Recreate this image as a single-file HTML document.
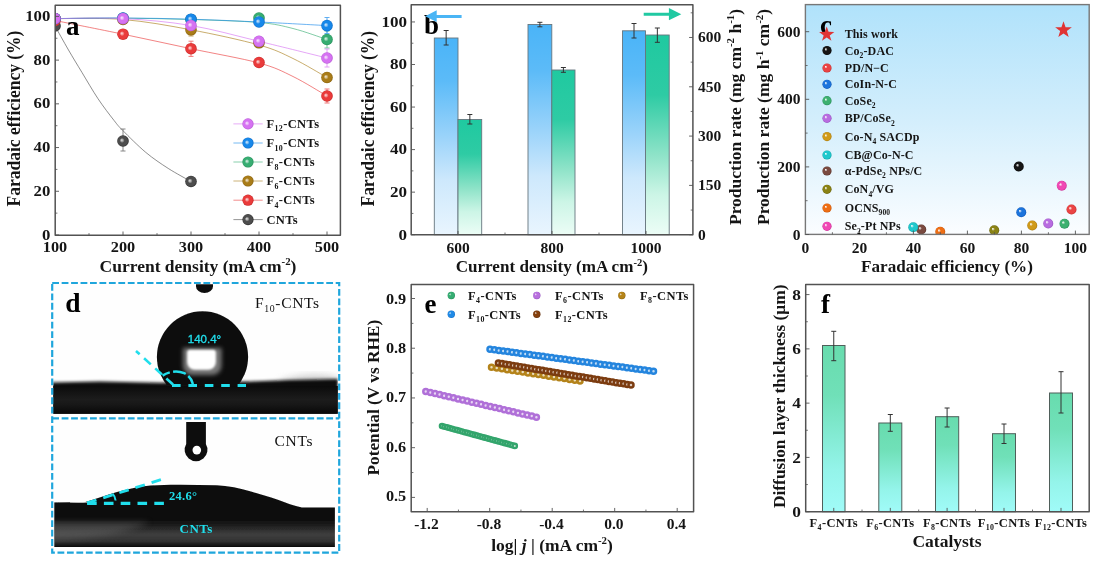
<!DOCTYPE html>
<html lang="en"><head><meta charset="utf-8"><title>Figure</title>
<style>
html,body{margin:0;padding:0;background:#fff;}
body{width:1100px;height:564px;overflow:hidden;font-family:'Liberation Serif',serif;}
svg{display:block;font-family:'Liberation Serif',serif;}
</style></head><body>
<svg width="1100" height="564" viewBox="0 0 1100 564">
<defs>
<radialGradient id="gF12" cx="0.5" cy="0.5" r="0.5" fx="0.38" fy="0.42"><stop offset="0" stop-color="#f6e0fc"/><stop offset="0.120" stop-color="#f1cffb"/><stop offset="0.300" stop-color="#e29bf6"/><stop offset="0.420" stop-color="#d672f2"/><stop offset="0.8" stop-color="#d672f2"/><stop offset="1" stop-color="#b45ad2"/></radialGradient>
<radialGradient id="gF10" cx="0.5" cy="0.5" r="0.5" fx="0.38" fy="0.42"><stop offset="0" stop-color="#cce5fa"/><stop offset="0.120" stop-color="#afd6f8"/><stop offset="0.300" stop-color="#5aaaf0"/><stop offset="0.420" stop-color="#1788ea"/><stop offset="0.8" stop-color="#1788ea"/><stop offset="1" stop-color="#0f6bc5"/></radialGradient>
<radialGradient id="gF8" cx="0.5" cy="0.5" r="0.5" fx="0.38" fy="0.42"><stop offset="0" stop-color="#d3ede0"/><stop offset="0.120" stop-color="#bae3cf"/><stop offset="0.300" stop-color="#70c49b"/><stop offset="0.420" stop-color="#37ad72"/><stop offset="0.8" stop-color="#37ad72"/><stop offset="1" stop-color="#268e5a"/></radialGradient>
<radialGradient id="gF6" cx="0.5" cy="0.5" r="0.5" fx="0.38" fy="0.42"><stop offset="0" stop-color="#ece2cc"/><stop offset="0.120" stop-color="#e2d2af"/><stop offset="0.300" stop-color="#c2a15a"/><stop offset="0.420" stop-color="#a97c18"/><stop offset="0.8" stop-color="#a97c18"/><stop offset="1" stop-color="#88610e"/></radialGradient>
<radialGradient id="gF4" cx="0.5" cy="0.5" r="0.5" fx="0.38" fy="0.42"><stop offset="0" stop-color="#fad4d4"/><stop offset="0.120" stop-color="#f8bcbc"/><stop offset="0.300" stop-color="#f07373"/><stop offset="0.420" stop-color="#ea3b3b"/><stop offset="0.8" stop-color="#ea3b3b"/><stop offset="1" stop-color="#c72727"/></radialGradient>
<radialGradient id="gCNT" cx="0.5" cy="0.5" r="0.5" fx="0.38" fy="0.42"><stop offset="0" stop-color="#d8d8d8"/><stop offset="0.120" stop-color="#c2c2c2"/><stop offset="0.300" stop-color="#808080"/><stop offset="0.420" stop-color="#4d4d4d"/><stop offset="0.8" stop-color="#4d4d4d"/><stop offset="1" stop-color="#2c2c2c"/></radialGradient>
<clipPath id="clipA"><rect x="55.2" y="5.3" width="285.2" height="238.0"/></clipPath>
<linearGradient id="gBlue" x1="0" y1="0" x2="0" y2="1"><stop offset="0" stop-color="#4ab4f8"/><stop offset="0.22" stop-color="#5cbbf8"/><stop offset="0.5" stop-color="#9ad3fa"/><stop offset="0.72" stop-color="#cde8fc"/><stop offset="1" stop-color="#e9f5fe"/></linearGradient>
<linearGradient id="gGreen" x1="0" y1="0" x2="0" y2="1"><stop offset="0" stop-color="#1fc9a0"/><stop offset="0.3" stop-color="#2ecba4"/><stop offset="0.6" stop-color="#8ee3c8"/><stop offset="0.8" stop-color="#ccf5e6"/><stop offset="1" stop-color="#ecfdf6"/></linearGradient>
<linearGradient id="gSky" x1="0" y1="0" x2="0" y2="1"><stop offset="0" stop-color="#b0e2fb"/><stop offset="0.5" stop-color="#d3eefc"/><stop offset="1" stop-color="#fbfdff"/></linearGradient>
<radialGradient id="ck" cx="0.5" cy="0.5" r="0.5" fx="0.34" fy="0.34"><stop offset="0" stop-color="#f3f3f3"/><stop offset="0.096" stop-color="#d0d0d0"/><stop offset="0.240" stop-color="#676767"/><stop offset="0.336" stop-color="#151515"/><stop offset="0.8" stop-color="#151515"/><stop offset="1" stop-color="#060606"/></radialGradient>
<radialGradient id="cr" cx="0.5" cy="0.5" r="0.5" fx="0.34" fy="0.34"><stop offset="0" stop-color="#fef6f6"/><stop offset="0.096" stop-color="#fbdada"/><stop offset="0.240" stop-color="#f18585"/><stop offset="0.336" stop-color="#ea4444"/><stop offset="0.8" stop-color="#ea4444"/><stop offset="1" stop-color="#c72e2e"/></radialGradient>
<radialGradient id="cb" cx="0.5" cy="0.5" r="0.5" fx="0.34" fy="0.34"><stop offset="0" stop-color="#f4f8fd"/><stop offset="0.096" stop-color="#d2e3f8"/><stop offset="0.240" stop-color="#6ba5e8"/><stop offset="0.336" stop-color="#1c74dc"/><stop offset="0.8" stop-color="#1c74dc"/><stop offset="1" stop-color="#1159b8"/></radialGradient>
<radialGradient id="cg" cx="0.5" cy="0.5" r="0.5" fx="0.34" fy="0.34"><stop offset="0" stop-color="#f5fbf8"/><stop offset="0.096" stop-color="#d8efe2"/><stop offset="0.240" stop-color="#80cca2"/><stop offset="0.336" stop-color="#3cb070"/><stop offset="0.8" stop-color="#3cb070"/><stop offset="1" stop-color="#288e5a"/></radialGradient>
<radialGradient id="cp" cx="0.5" cy="0.5" r="0.5" fx="0.34" fy="0.34"><stop offset="0" stop-color="#fbf8fd"/><stop offset="0.096" stop-color="#f1e2f9"/><stop offset="0.240" stop-color="#d19feb"/><stop offset="0.336" stop-color="#b86ce0"/><stop offset="0.8" stop-color="#b86ce0"/><stop offset="1" stop-color="#9853c1"/></radialGradient>
<radialGradient id="cy" cx="0.5" cy="0.5" r="0.5" fx="0.34" fy="0.34"><stop offset="0" stop-color="#fdfaf3"/><stop offset="0.096" stop-color="#f6ebd1"/><stop offset="0.240" stop-color="#e0bd69"/><stop offset="0.336" stop-color="#d09a18"/><stop offset="0.8" stop-color="#d09a18"/><stop offset="1" stop-color="#aa7a0d"/></radialGradient>
<radialGradient id="cc" cx="0.5" cy="0.5" r="0.5" fx="0.34" fy="0.34"><stop offset="0" stop-color="#f4fcfc"/><stop offset="0.096" stop-color="#d2f4f5"/><stop offset="0.240" stop-color="#6ddbde"/><stop offset="0.336" stop-color="#1fc8cc"/><stop offset="0.8" stop-color="#1fc8cc"/><stop offset="1" stop-color="#12a4a8"/></radialGradient>
<radialGradient id="cn" cx="0.5" cy="0.5" r="0.5" fx="0.34" fy="0.34"><stop offset="0" stop-color="#f8f6f5"/><stop offset="0.096" stop-color="#e4dbd9"/><stop offset="0.240" stop-color="#a98983"/><stop offset="0.336" stop-color="#7a4a40"/><stop offset="0.8" stop-color="#7a4a40"/><stop offset="1" stop-color="#5b342b"/></radialGradient>
<radialGradient id="co" cx="0.5" cy="0.5" r="0.5" fx="0.34" fy="0.34"><stop offset="0" stop-color="#f9f9f3"/><stop offset="0.096" stop-color="#e8e6d0"/><stop offset="0.240" stop-color="#b3ae66"/><stop offset="0.336" stop-color="#8a8214"/><stop offset="0.8" stop-color="#8a8214"/><stop offset="1" stop-color="#6b650d"/></radialGradient>
<radialGradient id="cO" cx="0.5" cy="0.5" r="0.5" fx="0.34" fy="0.34"><stop offset="0" stop-color="#fef8f3"/><stop offset="0.096" stop-color="#fce2d0"/><stop offset="0.240" stop-color="#f4a166"/><stop offset="0.336" stop-color="#ee6e14"/><stop offset="0.8" stop-color="#ee6e14"/><stop offset="1" stop-color="#c8560a"/></radialGradient>
<radialGradient id="cm" cx="0.5" cy="0.5" r="0.5" fx="0.34" fy="0.34"><stop offset="0" stop-color="#fef6fb"/><stop offset="0.096" stop-color="#fcdaf0"/><stop offset="0.240" stop-color="#f588ce"/><stop offset="0.336" stop-color="#f048b4"/><stop offset="0.8" stop-color="#f048b4"/><stop offset="1" stop-color="#cc2f95"/></radialGradient>
<clipPath id="clipC"><rect x="805.4" y="4.6" width="283.80" height="229.80"/></clipPath>
<filter id="bl1h" x="-30%" y="-30%" width="160%" height="160%"><feGaussianBlur stdDeviation="1.0"/></filter>
<filter id="bl2h" x="-40%" y="-40%" width="180%" height="180%"><feGaussianBlur stdDeviation="2.1"/></filter>
<filter id="bl1" x="-20%" y="-20%" width="140%" height="140%"><feGaussianBlur stdDeviation="0.7"/></filter>
<filter id="bl2" x="-30%" y="-30%" width="160%" height="160%"><feGaussianBlur stdDeviation="1.6"/></filter>
<filter id="bl3" x="-30%" y="-30%" width="160%" height="160%"><feGaussianBlur stdDeviation="3"/></filter>
<clipPath id="clipD1"><rect x="53.3" y="284.3" width="284.5" height="129.4"/></clipPath>
<clipPath id="clipD2"><rect x="54.3" y="419.6" width="280.6" height="127.5"/></clipPath>
<linearGradient id="gBand2" gradientUnits="userSpaceOnUse" x1="0" y1="485" x2="0" y2="547.3"><stop offset="0" stop-color="#0a0a0a"/><stop offset="0.55" stop-color="#0c0c0c"/><stop offset="0.67" stop-color="#222"/><stop offset="0.79" stop-color="#3e3e3e"/><stop offset="0.9" stop-color="#333"/><stop offset="0.96" stop-color="#1a1a1a"/><stop offset="1" stop-color="#050505"/></linearGradient>
<linearGradient id="gBand1" x1="0" y1="0" x2="0" y2="1"><stop offset="0" stop-color="#0b0b0b"/><stop offset="0.45" stop-color="#1c1c1c"/><stop offset="0.6" stop-color="#181818"/><stop offset="1" stop-color="#050505"/></linearGradient>
<clipPath id="clipDrop"><rect x="100" y="284" width="220" height="101"/></clipPath>
<radialGradient id="eF4" cx="0.5" cy="0.5" r="0.5" fx="0.3" fy="0.3"><stop offset="0" stop-color="#cfecdd"/><stop offset="0.096" stop-color="#b7e2cc"/><stop offset="0.240" stop-color="#6ec49a"/><stop offset="0.336" stop-color="#35ad72"/><stop offset="0.8" stop-color="#35ad72"/><stop offset="1" stop-color="#268e5a"/></radialGradient>
<radialGradient id="eF6" cx="0.5" cy="0.5" r="0.5" fx="0.3" fy="0.3"><stop offset="0" stop-color="#eedcf7"/><stop offset="0.096" stop-color="#e6cbf3"/><stop offset="0.240" stop-color="#cc98e7"/><stop offset="0.336" stop-color="#b870de"/><stop offset="0.8" stop-color="#b870de"/><stop offset="1" stop-color="#9854c1"/></radialGradient>
<radialGradient id="eF8" cx="0.5" cy="0.5" r="0.5" fx="0.3" fy="0.3"><stop offset="0" stop-color="#ede1c8"/><stop offset="0.096" stop-color="#e4d2ac"/><stop offset="0.240" stop-color="#caa659"/><stop offset="0.336" stop-color="#b58418"/><stop offset="0.8" stop-color="#b58418"/><stop offset="1" stop-color="#8c640e"/></radialGradient>
<radialGradient id="eF10" cx="0.5" cy="0.5" r="0.5" fx="0.3" fy="0.3"><stop offset="0" stop-color="#c9e3f9"/><stop offset="0.096" stop-color="#aed5f6"/><stop offset="0.240" stop-color="#5eabed"/><stop offset="0.336" stop-color="#1f8ae6"/><stop offset="0.8" stop-color="#1f8ae6"/><stop offset="1" stop-color="#116cc4"/></radialGradient>
<radialGradient id="eF12" cx="0.5" cy="0.5" r="0.5" fx="0.3" fy="0.3"><stop offset="0" stop-color="#e1d1c5"/><stop offset="0.096" stop-color="#d2baa8"/><stop offset="0.240" stop-color="#a67652"/><stop offset="0.336" stop-color="#84400e"/><stop offset="0.8" stop-color="#84400e"/><stop offset="1" stop-color="#612c07"/></radialGradient>
<linearGradient id="gAqua" x1="0" y1="0" x2="0" y2="1"><stop offset="0" stop-color="#68dcae"/><stop offset="0.3" stop-color="#70e0b8"/><stop offset="0.75" stop-color="#94f4ea"/><stop offset="1" stop-color="#a0fbf8"/></linearGradient>
</defs>
<g id="panel-a">
<g clip-path="url(#clipA)">
<path d="M55.00 26.00C57.25 30.00 64.00 42.25 68.50 50.00C73.00 57.75 77.08 64.38 82.00 72.50C86.92 80.62 92.67 90.72 98.00 98.70C103.33 106.68 109.83 115.07 114.00 120.40C118.17 125.73 117.70 125.37 123.00 130.70C128.30 136.03 138.27 146.12 145.80 152.40C153.33 158.68 160.67 163.55 168.20 168.40C175.73 173.25 187.20 179.32 191.00 181.50" fill="none" stroke="#4d4d4d" stroke-width="0.9" opacity="0.7"/>
<path d="M55.00 20.50C66.33 22.78 100.33 29.50 123.00 34.20C145.67 38.90 168.33 43.90 191.00 48.70C213.67 53.50 242.00 58.37 259.00 63.00C276.00 67.63 281.67 71.00 293.00 76.50C304.33 82.00 321.33 92.75 327.00 96.00" fill="none" stroke="#ea3b3b" stroke-width="0.9" opacity="0.7"/>
<path d="M55.00 18.60C66.33 18.75 100.33 17.63 123.00 19.50C145.67 21.37 168.33 25.55 191.00 29.80C213.67 34.05 242.00 40.22 259.00 45.00C276.00 49.78 281.67 53.08 293.00 58.50C304.33 63.92 321.33 74.33 327.00 77.50" fill="none" stroke="#a97c18" stroke-width="0.9" opacity="0.7"/>
<path d="M55.00 18.60C66.33 18.53 100.33 18.05 123.00 18.20C145.67 18.35 168.33 18.78 191.00 19.50C213.67 20.22 242.00 21.00 259.00 22.50C276.00 24.00 281.67 25.67 293.00 28.50C304.33 31.33 321.33 37.67 327.00 39.50" fill="none" stroke="#37ad72" stroke-width="0.9" opacity="0.7"/>
<path d="M55.00 18.60C66.33 18.50 100.33 17.90 123.00 18.00C145.67 18.10 168.33 18.53 191.00 19.20C213.67 19.87 236.33 20.93 259.00 22.00C281.67 23.07 315.67 25.00 327.00 25.60" fill="none" stroke="#1788ea" stroke-width="0.9" opacity="0.7"/>
<path d="M55.00 18.60C66.33 18.60 100.33 17.45 123.00 18.60C145.67 19.75 168.33 21.72 191.00 25.50C213.67 29.28 236.33 35.88 259.00 41.30C281.67 46.72 315.67 55.22 327.00 58.00" fill="none" stroke="#d672f2" stroke-width="0.9" opacity="0.7"/>
<circle cx="55" cy="26" r="5.8" fill="url(#gCNT)" />
<path d="M123 129V151M120.5 129H125.5M120.5 151H125.5" stroke="#7a7a7a" stroke-width="0.9" fill="none"/>
<circle cx="123" cy="141" r="5.8" fill="url(#gCNT)" />
<circle cx="191" cy="181.5" r="5.8" fill="url(#gCNT)" />
<circle cx="55" cy="20.5" r="5.8" fill="url(#gF4)" />
<circle cx="123" cy="34.2" r="5.8" fill="url(#gF4)" />
<path d="M191 41.2V56.4M188.5 41.2H193.5M188.5 56.4H193.5" stroke="#ef6c6c" stroke-width="0.9" fill="none"/>
<circle cx="191" cy="48.7" r="5.8" fill="url(#gF4)" />
<circle cx="259" cy="62.5" r="5.8" fill="url(#gF4)" />
<path d="M327 89V103M324.5 89H329.5M324.5 103H329.5" stroke="#ef6c6c" stroke-width="0.9" fill="none"/>
<circle cx="327" cy="96" r="5.8" fill="url(#gF4)" />
<circle cx="55" cy="18.6" r="5.8" fill="url(#gF6)" />
<circle cx="123" cy="19.5" r="5.8" fill="url(#gF6)" />
<path d="M191 24V36M188.5 24H193.5M188.5 36H193.5" stroke="#be9d52" stroke-width="0.9" fill="none"/>
<circle cx="191" cy="29.8" r="5.8" fill="url(#gF6)" />
<circle cx="259" cy="42.8" r="5.8" fill="url(#gF6)" />
<path d="M327 73V82M324.5 73H329.5M324.5 82H329.5" stroke="#be9d52" stroke-width="0.9" fill="none"/>
<circle cx="327" cy="77.5" r="5.8" fill="url(#gF6)" />
<circle cx="55" cy="18.6" r="5.8" fill="url(#gF8)" />
<circle cx="123" cy="18.2" r="5.8" fill="url(#gF8)" />
<circle cx="191" cy="19.5" r="5.8" fill="url(#gF8)" />
<circle cx="259" cy="18" r="5.8" fill="url(#gF8)" />
<path d="M327 31V48M324.5 31H329.5M324.5 48H329.5" stroke="#69c295" stroke-width="0.9" fill="none"/>
<circle cx="327" cy="39.5" r="5.8" fill="url(#gF8)" />
<circle cx="55" cy="18.6" r="5.8" fill="url(#gF10)" />
<circle cx="123" cy="18.0" r="5.8" fill="url(#gF10)" />
<circle cx="191" cy="19.2" r="5.8" fill="url(#gF10)" />
<circle cx="259" cy="22" r="5.8" fill="url(#gF10)" />
<path d="M327 17.5V33.5M324.5 17.5H329.5M324.5 33.5H329.5" stroke="#51a6ef" stroke-width="0.9" fill="none"/>
<circle cx="327" cy="25.6" r="5.8" fill="url(#gF10)" />
<circle cx="55" cy="18.6" r="5.8" fill="url(#gF12)" />
<circle cx="123" cy="18.6" r="5.8" fill="url(#gF12)" />
<circle cx="191" cy="25.5" r="5.8" fill="url(#gF12)" />
<circle cx="259" cy="41.3" r="5.8" fill="url(#gF12)" />
<path d="M327 49V67M324.5 49H329.5M324.5 67H329.5" stroke="#e095f5" stroke-width="0.9" fill="none"/>
<circle cx="327" cy="58" r="5.8" fill="url(#gF12)" />
</g>
<rect x="55.2" y="5.3" width="285.2" height="230.0" fill="none" stroke="#525252" stroke-width="1.5" stroke-linejoin="round"/>
<line x1="55.2" y1="235.0" x2="59.0" y2="235.0" stroke="#525252" stroke-width="0.9" />
<text x="0" y="0" font-size="15.5" text-anchor="end" font-weight="bold" fill="#151515" transform="translate(50.3 239.5) scale(1.08 1)">0</text>
<line x1="55.2" y1="191.28" x2="59.0" y2="191.28" stroke="#525252" stroke-width="0.9" />
<text x="0" y="0" font-size="15.5" text-anchor="end" font-weight="bold" fill="#151515" transform="translate(50.3 195.78) scale(1.08 1)">20</text>
<line x1="55.2" y1="147.56" x2="59.0" y2="147.56" stroke="#525252" stroke-width="0.9" />
<text x="0" y="0" font-size="15.5" text-anchor="end" font-weight="bold" fill="#151515" transform="translate(50.3 152.06) scale(1.08 1)">40</text>
<line x1="55.2" y1="103.84" x2="59.0" y2="103.84" stroke="#525252" stroke-width="0.9" />
<text x="0" y="0" font-size="15.5" text-anchor="end" font-weight="bold" fill="#151515" transform="translate(50.3 108.34) scale(1.08 1)">60</text>
<line x1="55.2" y1="60.120000000000005" x2="59.0" y2="60.120000000000005" stroke="#525252" stroke-width="0.9" />
<text x="0" y="0" font-size="15.5" text-anchor="end" font-weight="bold" fill="#151515" transform="translate(50.3 64.62) scale(1.08 1)">80</text>
<line x1="55.2" y1="16.400000000000006" x2="59.0" y2="16.400000000000006" stroke="#525252" stroke-width="0.9" />
<text x="0" y="0" font-size="15.5" text-anchor="end" font-weight="bold" fill="#151515" transform="translate(50.3 20.900000000000006) scale(1.08 1)">100</text>
<line x1="55.2" y1="213.14" x2="57.400000000000006" y2="213.14" stroke="#525252" stroke-width="0.8" />
<line x1="55.2" y1="169.42000000000002" x2="57.400000000000006" y2="169.42000000000002" stroke="#525252" stroke-width="0.8" />
<line x1="55.2" y1="125.7" x2="57.400000000000006" y2="125.7" stroke="#525252" stroke-width="0.8" />
<line x1="55.2" y1="81.98000000000002" x2="57.400000000000006" y2="81.98000000000002" stroke="#525252" stroke-width="0.8" />
<line x1="55.2" y1="38.25999999999999" x2="57.400000000000006" y2="38.25999999999999" stroke="#525252" stroke-width="0.8" />
<text x="0" y="0" font-size="15.5" text-anchor="middle" font-weight="bold" fill="#151515" transform="translate(55 252.3) scale(1.05 1)">100</text>
<line x1="123" y1="235.3" x2="123" y2="231.5" stroke="#525252" stroke-width="0.9" />
<text x="0" y="0" font-size="15.5" text-anchor="middle" font-weight="bold" fill="#151515" transform="translate(123 252.3) scale(1.05 1)">200</text>
<line x1="191" y1="235.3" x2="191" y2="231.5" stroke="#525252" stroke-width="0.9" />
<text x="0" y="0" font-size="15.5" text-anchor="middle" font-weight="bold" fill="#151515" transform="translate(191 252.3) scale(1.05 1)">300</text>
<line x1="259" y1="235.3" x2="259" y2="231.5" stroke="#525252" stroke-width="0.9" />
<text x="0" y="0" font-size="15.5" text-anchor="middle" font-weight="bold" fill="#151515" transform="translate(259 252.3) scale(1.05 1)">400</text>
<line x1="327" y1="235.3" x2="327" y2="231.5" stroke="#525252" stroke-width="0.9" />
<text x="0" y="0" font-size="15.5" text-anchor="middle" font-weight="bold" fill="#151515" transform="translate(327 252.3) scale(1.05 1)">500</text>
<line x1="89" y1="235.3" x2="89" y2="233.10000000000002" stroke="#525252" stroke-width="0.8" />
<line x1="157" y1="235.3" x2="157" y2="233.10000000000002" stroke="#525252" stroke-width="0.8" />
<line x1="225" y1="235.3" x2="225" y2="233.10000000000002" stroke="#525252" stroke-width="0.8" />
<line x1="293" y1="235.3" x2="293" y2="233.10000000000002" stroke="#525252" stroke-width="0.8" />
<text x="198" y="272" font-size="17.5" text-anchor="middle" font-weight="bold" fill="#151515">Current density (mA cm<tspan dy="-6.65" font-size="10.85">-2</tspan><tspan dy="6.65">)</tspan></text>
<text x="0" y="0" font-size="17.5" text-anchor="middle" font-weight="bold" fill="#151515" transform="translate(20 118.5) rotate(-90) scale(1 1.05)">Faradaic efficiency (%)</text>
<text x="66" y="34.6" font-size="27" text-anchor="start" font-weight="bold" fill="#000">a</text>
<line x1="233.4" y1="123.9" x2="262.7" y2="123.9" stroke="#d672f2" stroke-width="0.9" opacity="0.65"/>
<circle cx="248" cy="123.9" r="5.6" fill="url(#gF12)" />
<text x="266.4" y="128.1" font-size="12.5" text-anchor="start" font-weight="bold" fill="#151515" letter-spacing="0.4">F<tspan dy="3.38" font-size="7.88">12</tspan><tspan dy="-3.38">-CNTs</tspan></text>
<line x1="233.4" y1="143" x2="262.7" y2="143" stroke="#1788ea" stroke-width="0.9" opacity="0.65"/>
<circle cx="248" cy="143" r="5.6" fill="url(#gF10)" />
<text x="266.4" y="147.2" font-size="12.5" text-anchor="start" font-weight="bold" fill="#151515" letter-spacing="0.4">F<tspan dy="3.38" font-size="7.88">10</tspan><tspan dy="-3.38">-CNTs</tspan></text>
<line x1="233.4" y1="162" x2="262.7" y2="162" stroke="#37ad72" stroke-width="0.9" opacity="0.65"/>
<circle cx="248" cy="162" r="5.6" fill="url(#gF8)" />
<text x="266.4" y="166.2" font-size="12.5" text-anchor="start" font-weight="bold" fill="#151515" letter-spacing="0.4">F<tspan dy="3.38" font-size="7.88">8</tspan><tspan dy="-3.38">-CNTs</tspan></text>
<line x1="233.4" y1="181" x2="262.7" y2="181" stroke="#a97c18" stroke-width="0.9" opacity="0.65"/>
<circle cx="248" cy="181" r="5.6" fill="url(#gF6)" />
<text x="266.4" y="185.2" font-size="12.5" text-anchor="start" font-weight="bold" fill="#151515" letter-spacing="0.4">F<tspan dy="3.38" font-size="7.88">6</tspan><tspan dy="-3.38">-CNTs</tspan></text>
<line x1="233.4" y1="200.2" x2="262.7" y2="200.2" stroke="#ea3b3b" stroke-width="0.9" opacity="0.65"/>
<circle cx="248" cy="200.2" r="5.6" fill="url(#gF4)" />
<text x="266.4" y="204.39999999999998" font-size="12.5" text-anchor="start" font-weight="bold" fill="#151515" letter-spacing="0.4">F<tspan dy="3.38" font-size="7.88">4</tspan><tspan dy="-3.38">-CNTs</tspan></text>
<line x1="233.4" y1="219.6" x2="262.7" y2="219.6" stroke="#4d4d4d" stroke-width="0.9" opacity="0.65"/>
<circle cx="248" cy="219.6" r="5.6" fill="url(#gCNT)" />
<text x="266.4" y="223.79999999999998" font-size="12.5" text-anchor="start" font-weight="bold" fill="#151515" letter-spacing="0.4">CNTs</text>
</g>
<g id="panel-b">
<rect x="434.3" y="38" width="23.70" height="196.75" fill="url(#gBlue)" stroke="#66767e" stroke-width="0.9"/>
<path d="M446.15 30.5V45M443.65 30.5H448.65M443.65 45H448.65" stroke="#333" stroke-width="1" fill="none"/>
<rect x="458" y="119.5" width="23.70" height="115.25" fill="url(#gGreen)" stroke="#66767e" stroke-width="0.9"/>
<path d="M469.85 114.5V124M467.35 114.5H472.35M467.35 124H472.35" stroke="#333" stroke-width="1" fill="none"/>
<rect x="528" y="24.5" width="23.80" height="210.25" fill="url(#gBlue)" stroke="#66767e" stroke-width="0.9"/>
<path d="M539.9 22.3V26.8M537.4 22.3H542.4M537.4 26.8H542.4" stroke="#333" stroke-width="1" fill="none"/>
<rect x="551.8" y="70" width="23.20" height="164.75" fill="url(#gGreen)" stroke="#66767e" stroke-width="0.9"/>
<path d="M563.4 67.5V72.3M560.9 67.5H565.9M560.9 72.3H565.9" stroke="#333" stroke-width="1" fill="none"/>
<rect x="622.5" y="30.8" width="23.00" height="203.95" fill="url(#gBlue)" stroke="#66767e" stroke-width="0.9"/>
<path d="M634.0 23.5V38M631.5 23.5H636.5M631.5 38H636.5" stroke="#333" stroke-width="1" fill="none"/>
<rect x="645.5" y="35" width="23.70" height="199.75" fill="url(#gGreen)" stroke="#66767e" stroke-width="0.9"/>
<path d="M657.35 28V42.3M654.85 28H659.85M654.85 42.3H659.85" stroke="#333" stroke-width="1" fill="none"/>
<rect x="411.2" y="4.7" width="281.70" height="230.05" fill="none" stroke="#525252" stroke-width="1.5" stroke-linejoin="round"/>
<line x1="411.2" y1="234.7" x2="415.0" y2="234.7" stroke="#525252" stroke-width="0.9" />
<text x="0" y="0" font-size="15.5" text-anchor="end" font-weight="bold" fill="#151515" transform="translate(407 239.5) scale(1.1 1)">0</text>
<line x1="411.2" y1="192.14999999999998" x2="415.0" y2="192.14999999999998" stroke="#525252" stroke-width="0.9" />
<text x="0" y="0" font-size="15.5" text-anchor="end" font-weight="bold" fill="#151515" transform="translate(407 196.95) scale(1.1 1)">20</text>
<line x1="411.2" y1="149.6" x2="415.0" y2="149.6" stroke="#525252" stroke-width="0.9" />
<text x="0" y="0" font-size="15.5" text-anchor="end" font-weight="bold" fill="#151515" transform="translate(407 154.4) scale(1.1 1)">40</text>
<line x1="411.2" y1="107.05" x2="415.0" y2="107.05" stroke="#525252" stroke-width="0.9" />
<text x="0" y="0" font-size="15.5" text-anchor="end" font-weight="bold" fill="#151515" transform="translate(407 111.85) scale(1.1 1)">60</text>
<line x1="411.2" y1="64.5" x2="415.0" y2="64.5" stroke="#525252" stroke-width="0.9" />
<text x="0" y="0" font-size="15.5" text-anchor="end" font-weight="bold" fill="#151515" transform="translate(407 69.3) scale(1.1 1)">80</text>
<line x1="411.2" y1="21.94999999999999" x2="415.0" y2="21.94999999999999" stroke="#525252" stroke-width="0.9" />
<text x="0" y="0" font-size="15.5" text-anchor="end" font-weight="bold" fill="#151515" transform="translate(407 26.74999999999999) scale(1.1 1)">100</text>
<line x1="411.2" y1="213.42499999999998" x2="413.4" y2="213.42499999999998" stroke="#525252" stroke-width="0.8" />
<line x1="411.2" y1="170.875" x2="413.4" y2="170.875" stroke="#525252" stroke-width="0.8" />
<line x1="411.2" y1="128.325" x2="413.4" y2="128.325" stroke="#525252" stroke-width="0.8" />
<line x1="411.2" y1="85.775" x2="413.4" y2="85.775" stroke="#525252" stroke-width="0.8" />
<line x1="411.2" y1="43.224999999999994" x2="413.4" y2="43.224999999999994" stroke="#525252" stroke-width="0.8" />
<line x1="692.9" y1="234.7" x2="689.1" y2="234.7" stroke="#525252" stroke-width="0.9" />
<text x="698" y="239.5" font-size="15.5" text-anchor="start" font-weight="bold" fill="#151515">0</text>
<line x1="692.9" y1="185.39499999999998" x2="689.1" y2="185.39499999999998" stroke="#525252" stroke-width="0.9" />
<text x="698" y="190.195" font-size="15.5" text-anchor="start" font-weight="bold" fill="#151515">150</text>
<line x1="692.9" y1="136.08999999999997" x2="689.1" y2="136.08999999999997" stroke="#525252" stroke-width="0.9" />
<text x="698" y="140.89" font-size="15.5" text-anchor="start" font-weight="bold" fill="#151515">300</text>
<line x1="692.9" y1="86.785" x2="689.1" y2="86.785" stroke="#525252" stroke-width="0.9" />
<text x="698" y="91.585" font-size="15.5" text-anchor="start" font-weight="bold" fill="#151515">450</text>
<line x1="692.9" y1="37.47999999999999" x2="689.1" y2="37.47999999999999" stroke="#525252" stroke-width="0.9" />
<text x="698" y="42.27999999999999" font-size="15.5" text-anchor="start" font-weight="bold" fill="#151515">600</text>
<line x1="692.9" y1="210.04749999999999" x2="690.6999999999999" y2="210.04749999999999" stroke="#525252" stroke-width="0.8" />
<line x1="692.9" y1="160.7425" x2="690.6999999999999" y2="160.7425" stroke="#525252" stroke-width="0.8" />
<line x1="692.9" y1="111.43749999999999" x2="690.6999999999999" y2="111.43749999999999" stroke="#525252" stroke-width="0.8" />
<line x1="692.9" y1="62.13249999999999" x2="690.6999999999999" y2="62.13249999999999" stroke="#525252" stroke-width="0.8" />
<line x1="692.9" y1="12.827499999999986" x2="690.6999999999999" y2="12.827499999999986" stroke="#525252" stroke-width="0.8" />
<line x1="458" y1="234.75" x2="458" y2="230.95" stroke="#525252" stroke-width="0.9" />
<text x="458" y="252.6" font-size="15.5" text-anchor="middle" font-weight="bold" fill="#151515">600</text>
<line x1="552" y1="234.75" x2="552" y2="230.95" stroke="#525252" stroke-width="0.9" />
<text x="552" y="252.6" font-size="15.5" text-anchor="middle" font-weight="bold" fill="#151515">800</text>
<line x1="646" y1="234.75" x2="646" y2="230.95" stroke="#525252" stroke-width="0.9" />
<text x="646" y="252.6" font-size="15.5" text-anchor="middle" font-weight="bold" fill="#151515">1000</text>
<line x1="505" y1="234.75" x2="505" y2="232.55" stroke="#525252" stroke-width="0.8" />
<line x1="599" y1="234.75" x2="599" y2="232.55" stroke="#525252" stroke-width="0.8" />
<text x="551.8" y="272" font-size="17.1" text-anchor="middle" font-weight="bold" fill="#151515">Current density (mA cm<tspan dy="-6.50" font-size="10.60">-2</tspan><tspan dy="6.50">)</tspan></text>
<text x="0" y="0" font-size="17.5" text-anchor="middle" font-weight="bold" fill="#151515" transform="translate(373.7 118.7) rotate(-90) scale(1 1.1)">Faradaic efficiency (%)</text>
<text x="741" y="117" font-size="17.5" text-anchor="middle" font-weight="bold" fill="#151515" transform="rotate(-90 741 117)">Production rate (mg cm<tspan dy="-6.65" font-size="10.85">-2</tspan><tspan dy="6.65"> h</tspan><tspan dy="-6.65" font-size="10.85">-1</tspan><tspan dy="6.65">)</tspan></text>
<text x="424" y="33.7" font-size="27" text-anchor="start" font-weight="bold" fill="#000">b</text>
<path d="M461.6 14.9H436.7V10.2L425.2 16.2L436.7 22V18.1H461.6Z" fill="#4ab5f5"/>
<path d="M643.7 12.7H668.9V8.1L681.3 14.2L668.9 20.2V15.8H643.7Z" fill="#20c9a2"/>
</g>
<g id="panel-c">
<rect x="805.4" y="4.6" width="283.80" height="229.80" fill="url(#gSky)"/>
<text x="820" y="34" font-size="27" text-anchor="start" font-weight="bold" fill="#000">c</text>
<g clip-path="url(#clipC)">
<circle cx="940.25" cy="231.75" r="5" fill="url(#cO)" />
<circle cx="994.25" cy="230.25" r="5" fill="url(#co)" />
<circle cx="921.25" cy="229.5" r="5" fill="url(#cn)" />
<circle cx="913.25" cy="227.25" r="5" fill="url(#cc)" />
<circle cx="1032.25" cy="225.5" r="5" fill="url(#cy)" />
<circle cx="1048.25" cy="223.5" r="5" fill="url(#cp)" />
<circle cx="1064.5" cy="223.75" r="5" fill="url(#cg)" />
<circle cx="1021.25" cy="212.25" r="5" fill="url(#cb)" />
<circle cx="1071.5" cy="209.5" r="5" fill="url(#cr)" />
<circle cx="1061.75" cy="185.75" r="5" fill="url(#cm)" />
<circle cx="1018.75" cy="166.5" r="5" fill="url(#ck)" />
</g>
<polygon points="1063.50,21.20 1065.57,27.15 1071.87,27.28 1066.85,31.09 1068.67,37.12 1063.50,33.52 1058.33,37.12 1060.15,31.09 1055.13,27.28 1061.43,27.15" fill="#e03434"/>
<rect x="805.4" y="4.6" width="283.80" height="229.80" fill="none" stroke="#777" stroke-width="1.4"/>
<line x1="805.4" y1="234.5" x2="809.1999999999999" y2="234.5" stroke="#525252" stroke-width="0.9" />
<text x="800.5" y="239.5" font-size="15.5" text-anchor="end" font-weight="bold" fill="#151515">0</text>
<line x1="805.4" y1="166.89999999999998" x2="809.1999999999999" y2="166.89999999999998" stroke="#525252" stroke-width="0.9" />
<text x="800.5" y="171.89999999999998" font-size="15.5" text-anchor="end" font-weight="bold" fill="#151515">200</text>
<line x1="805.4" y1="99.29999999999998" x2="809.1999999999999" y2="99.29999999999998" stroke="#525252" stroke-width="0.9" />
<text x="800.5" y="104.29999999999998" font-size="15.5" text-anchor="end" font-weight="bold" fill="#151515">400</text>
<line x1="805.4" y1="31.69999999999999" x2="809.1999999999999" y2="31.69999999999999" stroke="#525252" stroke-width="0.9" />
<text x="800.5" y="36.69999999999999" font-size="15.5" text-anchor="end" font-weight="bold" fill="#151515">600</text>
<line x1="805.4" y1="200.7" x2="807.6" y2="200.7" stroke="#525252" stroke-width="0.8" />
<line x1="805.4" y1="133.1" x2="807.6" y2="133.1" stroke="#525252" stroke-width="0.8" />
<line x1="805.4" y1="65.5" x2="807.6" y2="65.5" stroke="#525252" stroke-width="0.8" />
<text x="805.4" y="252.6" font-size="15.5" text-anchor="middle" font-weight="bold" fill="#151515">0</text>
<line x1="859.4" y1="234.4" x2="859.4" y2="230.6" stroke="#525252" stroke-width="0.9" />
<text x="859.4" y="252.6" font-size="15.5" text-anchor="middle" font-weight="bold" fill="#151515">20</text>
<line x1="913.4" y1="234.4" x2="913.4" y2="230.6" stroke="#525252" stroke-width="0.9" />
<text x="913.4" y="252.6" font-size="15.5" text-anchor="middle" font-weight="bold" fill="#151515">40</text>
<line x1="967.4" y1="234.4" x2="967.4" y2="230.6" stroke="#525252" stroke-width="0.9" />
<text x="967.4" y="252.6" font-size="15.5" text-anchor="middle" font-weight="bold" fill="#151515">60</text>
<line x1="1021.4" y1="234.4" x2="1021.4" y2="230.6" stroke="#525252" stroke-width="0.9" />
<text x="1021.4" y="252.6" font-size="15.5" text-anchor="middle" font-weight="bold" fill="#151515">80</text>
<line x1="1075.4" y1="234.4" x2="1075.4" y2="230.6" stroke="#525252" stroke-width="0.9" />
<text x="1075.4" y="252.6" font-size="15.5" text-anchor="middle" font-weight="bold" fill="#151515">100</text>
<line x1="832.4" y1="234.4" x2="832.4" y2="232.20000000000002" stroke="#525252" stroke-width="0.8" />
<line x1="886.4" y1="234.4" x2="886.4" y2="232.20000000000002" stroke="#525252" stroke-width="0.8" />
<line x1="940.4" y1="234.4" x2="940.4" y2="232.20000000000002" stroke="#525252" stroke-width="0.8" />
<line x1="994.4" y1="234.4" x2="994.4" y2="232.20000000000002" stroke="#525252" stroke-width="0.8" />
<line x1="1048.4" y1="234.4" x2="1048.4" y2="232.20000000000002" stroke="#525252" stroke-width="0.8" />
<text x="947" y="272" font-size="17.1" text-anchor="middle" font-weight="bold" fill="#151515">Faradaic efficiency (%)</text>
<text x="769.3" y="117" font-size="17.5" text-anchor="middle" font-weight="bold" fill="#151515" transform="rotate(-90 769.3 117)">Production rate (mg h<tspan dy="-6.65" font-size="10.85">-1</tspan><tspan dy="6.65"> cm</tspan><tspan dy="-6.65" font-size="10.85">-2</tspan><tspan dy="6.65">)</tspan></text>
<polygon points="826.70,26.40 828.58,31.81 834.31,31.93 829.74,35.39 831.40,40.87 826.70,37.60 822.00,40.87 823.66,35.39 819.09,31.93 824.82,31.81" fill="#e03434"/>
<text x="844.7" y="37.6" font-size="12" text-anchor="start" font-weight="bold" fill="#151515" letter-spacing="0.12">This work</text>
<circle cx="827" cy="50.5" r="4.6" fill="url(#ck)" />
<text x="844.7" y="54.6" font-size="12" text-anchor="start" font-weight="bold" fill="#151515" letter-spacing="0.12">Co<tspan dy="3.24" font-size="7.56">2</tspan><tspan dy="-3.24">-DAC</tspan></text>
<circle cx="827" cy="68" r="4.6" fill="url(#cr)" />
<text x="844.7" y="72.1" font-size="12" text-anchor="start" font-weight="bold" fill="#151515" letter-spacing="0.12">PD/N−C</text>
<circle cx="827" cy="84.3" r="4.6" fill="url(#cb)" />
<text x="844.7" y="88.39999999999999" font-size="12" text-anchor="start" font-weight="bold" fill="#151515" letter-spacing="0.12">CoIn-N-C</text>
<circle cx="827" cy="100.7" r="4.6" fill="url(#cg)" />
<text x="844.7" y="104.8" font-size="12" text-anchor="start" font-weight="bold" fill="#151515" letter-spacing="0.12">CoSe<tspan dy="3.24" font-size="7.56">2</tspan></text>
<circle cx="827" cy="118.3" r="4.6" fill="url(#cp)" />
<text x="844.7" y="122.39999999999999" font-size="12" text-anchor="start" font-weight="bold" fill="#151515" letter-spacing="0.12">BP/CoSe<tspan dy="3.24" font-size="7.56">2</tspan></text>
<circle cx="827" cy="136.6" r="4.6" fill="url(#cy)" />
<text x="844.7" y="140.7" font-size="12" text-anchor="start" font-weight="bold" fill="#151515" letter-spacing="0.12">Co-N<tspan dy="3.24" font-size="7.56">4</tspan><tspan dy="-3.24"> SACDp</tspan></text>
<circle cx="827" cy="155" r="4.6" fill="url(#cc)" />
<text x="844.7" y="159.1" font-size="12" text-anchor="start" font-weight="bold" fill="#151515" letter-spacing="0.12">CB@Co-N-C</text>
<circle cx="827" cy="171" r="4.6" fill="url(#cn)" />
<text x="844.7" y="175.1" font-size="12" text-anchor="start" font-weight="bold" fill="#151515" letter-spacing="0.12">α-PdSe<tspan dy="3.24" font-size="7.56">2</tspan><tspan dy="-3.24"> NPs/C</tspan></text>
<circle cx="827" cy="189.3" r="4.6" fill="url(#co)" />
<text x="844.7" y="193.4" font-size="12" text-anchor="start" font-weight="bold" fill="#151515" letter-spacing="0.12">CoN<tspan dy="3.24" font-size="7.56">4</tspan><tspan dy="-3.24">/VG</tspan></text>
<circle cx="827" cy="208" r="4.6" fill="url(#cO)" />
<text x="844.7" y="212.1" font-size="12" text-anchor="start" font-weight="bold" fill="#151515" letter-spacing="0.12">OCNS<tspan dy="3.24" font-size="7.56">900</tspan></text>
<circle cx="827" cy="226.3" r="4.6" fill="url(#cm)" />
<text x="844.7" y="230.4" font-size="12" text-anchor="start" font-weight="bold" fill="#151515" letter-spacing="0.12">Se<tspan dy="3.24" font-size="7.56">2</tspan><tspan dy="-3.24">-Pt NPs</tspan></text>
</g>
<g id="panel-d">
<g clip-path="url(#clipD1)">
<rect x="50" y="280" width="295" height="140" fill="#fefefe"/>
<path d="M280 380 Q310 371 338 377 V384 H280Z" fill="#b5b5b5" filter="url(#bl3)" opacity="0.6"/>
<path d="M50 382.6 L100 381.6 L160 382.8 L250 381.5 L290 380 L338 379 V420 H50Z" fill="url(#gBand1)" filter="url(#bl2)"/>
<rect x="50" y="386" width="295" height="30" fill="url(#gBand1)"/>
<g clip-path="url(#clipDrop)"><circle cx="202.5" cy="356.9" r="45.6" fill="#0b0b0b" filter="url(#bl1)"/></g>
<path d="M183 348 H221.5 V366 A9 9 0 0 1 212.5 375 H192 A9 9 0 0 1 183 366 Z" fill="#787878" filter="url(#bl2h)"/>
<path d="M190.1 349.8 H212.9 A3 3 0 0 1 215.9 352.8 V362 A7.7 7.7 0 0 1 208.2 369.7 H194.8 A7.7 7.7 0 0 1 187.1 362 V352.8 A3 3 0 0 1 190.1 349.8 Z" fill="#ffffff" filter="url(#bl1h)"/>
<path d="M196 280 V286.5 A8.5 6.5 0 0 0 213 286.5 V280 Z" fill="#0c0c0c" filter="url(#bl1)"/>
</g>
<path d="M172 385.5 H246" stroke="#20deec" stroke-width="3.2" stroke-dasharray="8.6 7.8" fill="none"/>
<path d="M173 384.5 L136 351" stroke="#20deec" stroke-width="2.6" stroke-dasharray="9 6" fill="none"/>
<path d="M192.9 384 C192 379.5 189 375.6 184.2 373.2 C180 371.4 175.5 371 170.5 372.2 C167.5 373 165 374 162.6 375.6" stroke="#20deec" stroke-width="2.5" stroke-dasharray="9.5 3.2 13 3.2 9" fill="none"/>
<g stroke="#20deec" stroke-width="0.35">
<text x="204.5" y="343.2" font-size="11.5" text-anchor="middle" font-weight="normal" fill="#20deec" font-family="'Liberation Sans', sans-serif">140.4°</text>
</g>
<text x="255" y="308" font-size="15.5" text-anchor="start" font-weight="normal" fill="#111" letter-spacing="0.65">F<tspan dy="4.19" font-size="9.77">10</tspan><tspan dy="-4.19">-CNTs</tspan></text>
<text x="65.3" y="312.4" font-size="27.5" text-anchor="start" font-weight="bold" fill="#000">d</text>
<g clip-path="url(#clipD2)">
<rect x="50" y="415" width="295" height="140" fill="#fefefe"/>
<path d="M50 502.4 L70 502.2 L83 502.8 C95 499.2 106 495 117 492 C126 489.6 135 487.4 143.8 486.2 C153 485.2 162 484.8 170.6 484.7 C186 484.6 201 484.7 216.2 485.3 C228 485.8 240 488.3 251 491.4 C260 494 269 496.4 277.9 499.7 C286 502.7 294 505.8 302 507.6 L340 507.6 V560 H50Z" fill="url(#gBand2)" filter="url(#bl1)"/>
<rect x="50" y="510" width="295" height="40" fill="url(#gBand2)" opacity="0"/>
<path d="M50 522 H150 Q120 538 50 540Z" fill="#6a6a6a" opacity="0.45" filter="url(#bl3)"/>
<path d="M305 508.6 H332" stroke="#b8b8b8" stroke-width="1.6" filter="url(#bl1)"/>
<path d="M70 502.2 L88 502.8" stroke="#bbb" stroke-width="1" filter="url(#bl1)"/>
<path d="M186.2 422 H205.9 V444 A11.4 11.4 0 1 1 186.2 444 Z" fill="#101010" filter="url(#bl1)"/>
<circle cx="196.8" cy="450.1" r="4.3" fill="#fff" filter="url(#bl1)"/>
</g>
<path d="M87.1 503.4 H164" stroke="#20deec" stroke-width="3.1" stroke-dasharray="9.6 7.2" fill="none"/>
<path d="M87.1 502.9 L160.9 479.7" stroke="#20deec" stroke-width="2.8" stroke-dasharray="9.8 7.1" fill="none"/>
<path d="M115.6 500.5 Q115.3 496.5 112.6 493.6" stroke="#20deec" stroke-width="2" fill="none"/>
<text x="169" y="499.5" font-size="12.5" text-anchor="start" font-weight="bold" fill="#20deec" letter-spacing="0.3">24.6°</text>
<text x="179.5" y="533" font-size="13" text-anchor="start" font-weight="bold" fill="#20deec" letter-spacing="0.5">CNTs</text>
<text x="274.5" y="445.5" font-size="15.5" text-anchor="start" font-weight="normal" fill="#111" letter-spacing="0.7">CNTs</text>
<rect x="52.2" y="283" width="287" height="269.7" fill="none" stroke="#1fa6dc" stroke-width="2.2" stroke-dasharray="6.8 2.65"/>
<path d="M52.2 418.4 H339.2" stroke="#1fa6dc" stroke-width="2.2" stroke-dasharray="6.8 2.65" fill="none"/>
</g>
<g id="panel-e">
<g fill="#c6e6d6" stroke="#33a56c" stroke-width="2.3">
<circle cx="442.00" cy="426.00" r="2.15"/>
<circle cx="444.51" cy="426.69" r="2.15"/>
<circle cx="447.02" cy="427.37" r="2.15"/>
<circle cx="449.53" cy="428.06" r="2.15"/>
<circle cx="452.04" cy="428.74" r="2.15"/>
<circle cx="454.55" cy="429.43" r="2.15"/>
<circle cx="457.06" cy="430.12" r="2.15"/>
<circle cx="459.57" cy="430.80" r="2.15"/>
<circle cx="462.08" cy="431.49" r="2.15"/>
<circle cx="464.59" cy="432.18" r="2.15"/>
<circle cx="467.10" cy="432.86" r="2.15"/>
<circle cx="469.61" cy="433.55" r="2.15"/>
<circle cx="472.12" cy="434.23" r="2.15"/>
<circle cx="474.63" cy="434.92" r="2.15"/>
<circle cx="477.14" cy="435.61" r="2.15"/>
<circle cx="479.66" cy="436.29" r="2.15"/>
<circle cx="482.17" cy="436.98" r="2.15"/>
<circle cx="484.68" cy="437.67" r="2.15"/>
<circle cx="487.19" cy="438.35" r="2.15"/>
<circle cx="489.70" cy="439.04" r="2.15"/>
<circle cx="492.21" cy="439.72" r="2.15"/>
<circle cx="494.72" cy="440.41" r="2.15"/>
<circle cx="497.23" cy="441.10" r="2.15"/>
<circle cx="499.74" cy="441.78" r="2.15"/>
<circle cx="502.25" cy="442.47" r="2.15"/>
<circle cx="504.76" cy="443.16" r="2.15"/>
<circle cx="507.27" cy="443.84" r="2.15"/>
<circle cx="509.78" cy="444.53" r="2.15"/>
<circle cx="512.29" cy="445.21" r="2.15"/>
<circle cx="514.80" cy="445.90" r="2.15"/>
</g>
<g fill="#e9d7f4" stroke="#b070d8" stroke-width="2.5">
<circle cx="425.80" cy="391.40" r="2.5"/>
<circle cx="430.41" cy="392.47" r="2.5"/>
<circle cx="435.02" cy="393.55" r="2.5"/>
<circle cx="439.62" cy="394.62" r="2.5"/>
<circle cx="444.23" cy="395.70" r="2.5"/>
<circle cx="448.84" cy="396.77" r="2.5"/>
<circle cx="453.45" cy="397.85" r="2.5"/>
<circle cx="458.06" cy="398.92" r="2.5"/>
<circle cx="462.67" cy="400.00" r="2.5"/>
<circle cx="467.27" cy="401.07" r="2.5"/>
<circle cx="471.88" cy="402.15" r="2.5"/>
<circle cx="476.49" cy="403.22" r="2.5"/>
<circle cx="481.10" cy="404.30" r="2.5"/>
<circle cx="485.71" cy="405.38" r="2.5"/>
<circle cx="490.32" cy="406.45" r="2.5"/>
<circle cx="494.92" cy="407.52" r="2.5"/>
<circle cx="499.53" cy="408.60" r="2.5"/>
<circle cx="504.14" cy="409.68" r="2.5"/>
<circle cx="508.75" cy="410.75" r="2.5"/>
<circle cx="513.36" cy="411.82" r="2.5"/>
<circle cx="517.97" cy="412.90" r="2.5"/>
<circle cx="522.58" cy="413.97" r="2.5"/>
<circle cx="527.18" cy="415.05" r="2.5"/>
<circle cx="531.79" cy="416.12" r="2.5"/>
<circle cx="536.40" cy="417.20" r="2.5"/>
</g>
<g fill="#eadcbf" stroke="#b4831a" stroke-width="2.5">
<circle cx="491.50" cy="367.20" r="2.5"/>
<circle cx="496.71" cy="368.01" r="2.5"/>
<circle cx="501.91" cy="368.82" r="2.5"/>
<circle cx="507.12" cy="369.64" r="2.5"/>
<circle cx="512.32" cy="370.45" r="2.5"/>
<circle cx="517.53" cy="371.26" r="2.5"/>
<circle cx="522.74" cy="372.07" r="2.5"/>
<circle cx="527.94" cy="372.88" r="2.5"/>
<circle cx="533.15" cy="373.69" r="2.5"/>
<circle cx="538.35" cy="374.51" r="2.5"/>
<circle cx="543.56" cy="375.32" r="2.5"/>
<circle cx="548.76" cy="376.13" r="2.5"/>
<circle cx="553.97" cy="376.94" r="2.5"/>
<circle cx="559.18" cy="377.75" r="2.5"/>
<circle cx="564.38" cy="378.56" r="2.5"/>
<circle cx="569.59" cy="379.38" r="2.5"/>
<circle cx="574.79" cy="380.19" r="2.5"/>
<circle cx="580.00" cy="381.00" r="2.5"/>
</g>
<g fill="#dac8bc" stroke="#7c3c10" stroke-width="2.5">
<circle cx="498.40" cy="363.00" r="2.5"/>
<circle cx="502.08" cy="363.61" r="2.5"/>
<circle cx="505.77" cy="364.23" r="2.5"/>
<circle cx="509.45" cy="364.84" r="2.5"/>
<circle cx="513.13" cy="365.46" r="2.5"/>
<circle cx="516.82" cy="366.07" r="2.5"/>
<circle cx="520.50" cy="366.68" r="2.5"/>
<circle cx="524.18" cy="367.30" r="2.5"/>
<circle cx="527.87" cy="367.91" r="2.5"/>
<circle cx="531.55" cy="368.52" r="2.5"/>
<circle cx="535.23" cy="369.14" r="2.5"/>
<circle cx="538.92" cy="369.75" r="2.5"/>
<circle cx="542.60" cy="370.37" r="2.5"/>
<circle cx="546.28" cy="370.98" r="2.5"/>
<circle cx="549.97" cy="371.59" r="2.5"/>
<circle cx="553.65" cy="372.21" r="2.5"/>
<circle cx="557.33" cy="372.82" r="2.5"/>
<circle cx="561.02" cy="373.44" r="2.5"/>
<circle cx="564.70" cy="374.05" r="2.5"/>
<circle cx="568.38" cy="374.66" r="2.5"/>
<circle cx="572.07" cy="375.28" r="2.5"/>
<circle cx="575.75" cy="375.89" r="2.5"/>
<circle cx="579.43" cy="376.51" r="2.5"/>
<circle cx="583.12" cy="377.12" r="2.5"/>
<circle cx="586.80" cy="377.73" r="2.5"/>
<circle cx="590.48" cy="378.35" r="2.5"/>
<circle cx="594.17" cy="378.96" r="2.5"/>
<circle cx="597.85" cy="379.58" r="2.5"/>
<circle cx="601.53" cy="380.19" r="2.5"/>
<circle cx="605.22" cy="380.80" r="2.5"/>
<circle cx="608.90" cy="381.42" r="2.5"/>
<circle cx="612.58" cy="382.03" r="2.5"/>
<circle cx="616.27" cy="382.64" r="2.5"/>
<circle cx="619.95" cy="383.26" r="2.5"/>
<circle cx="623.63" cy="383.87" r="2.5"/>
<circle cx="627.32" cy="384.49" r="2.5"/>
<circle cx="631.00" cy="385.10" r="2.5"/>
</g>
<g fill="#c2ddf6" stroke="#2485de" stroke-width="2.5">
<circle cx="490.00" cy="349.20" r="2.5"/>
<circle cx="494.42" cy="349.80" r="2.5"/>
<circle cx="498.84" cy="350.39" r="2.5"/>
<circle cx="503.26" cy="350.99" r="2.5"/>
<circle cx="507.68" cy="351.59" r="2.5"/>
<circle cx="512.09" cy="352.19" r="2.5"/>
<circle cx="516.51" cy="352.78" r="2.5"/>
<circle cx="520.93" cy="353.38" r="2.5"/>
<circle cx="525.35" cy="353.98" r="2.5"/>
<circle cx="529.77" cy="354.58" r="2.5"/>
<circle cx="534.19" cy="355.17" r="2.5"/>
<circle cx="538.61" cy="355.77" r="2.5"/>
<circle cx="543.03" cy="356.37" r="2.5"/>
<circle cx="547.45" cy="356.96" r="2.5"/>
<circle cx="551.86" cy="357.56" r="2.5"/>
<circle cx="556.28" cy="358.16" r="2.5"/>
<circle cx="560.70" cy="358.76" r="2.5"/>
<circle cx="565.12" cy="359.35" r="2.5"/>
<circle cx="569.54" cy="359.95" r="2.5"/>
<circle cx="573.96" cy="360.55" r="2.5"/>
<circle cx="578.38" cy="361.15" r="2.5"/>
<circle cx="582.80" cy="361.74" r="2.5"/>
<circle cx="587.22" cy="362.34" r="2.5"/>
<circle cx="591.64" cy="362.94" r="2.5"/>
<circle cx="596.05" cy="363.54" r="2.5"/>
<circle cx="600.47" cy="364.13" r="2.5"/>
<circle cx="604.89" cy="364.73" r="2.5"/>
<circle cx="609.31" cy="365.33" r="2.5"/>
<circle cx="613.73" cy="365.92" r="2.5"/>
<circle cx="618.15" cy="366.52" r="2.5"/>
<circle cx="622.57" cy="367.12" r="2.5"/>
<circle cx="626.99" cy="367.72" r="2.5"/>
<circle cx="631.41" cy="368.31" r="2.5"/>
<circle cx="635.82" cy="368.91" r="2.5"/>
<circle cx="640.24" cy="369.51" r="2.5"/>
<circle cx="644.66" cy="370.11" r="2.5"/>
<circle cx="649.08" cy="370.70" r="2.5"/>
<circle cx="653.50" cy="371.30" r="2.5"/>
</g>
<rect x="411.2" y="284.5" width="282.40" height="227.25" fill="none" stroke="#525252" stroke-width="1.5" stroke-linejoin="round"/>
<line x1="411.2" y1="497.4" x2="415.0" y2="497.4" stroke="#525252" stroke-width="0.9" />
<text x="0" y="0" font-size="15.5" text-anchor="end" font-weight="bold" fill="#151515" transform="translate(406.2 501.20000000000005) scale(1.05 1)">0.5</text>
<line x1="411.2" y1="447.675" x2="415.0" y2="447.675" stroke="#525252" stroke-width="0.9" />
<text x="0" y="0" font-size="15.5" text-anchor="end" font-weight="bold" fill="#151515" transform="translate(406.2 451.80000000000007) scale(1.05 1)">0.6</text>
<line x1="411.2" y1="397.95000000000005" x2="415.0" y2="397.95000000000005" stroke="#525252" stroke-width="0.9" />
<text x="0" y="0" font-size="15.5" text-anchor="end" font-weight="bold" fill="#151515" transform="translate(406.2 402.4000000000001) scale(1.05 1)">0.7</text>
<line x1="411.2" y1="348.22499999999997" x2="415.0" y2="348.22499999999997" stroke="#525252" stroke-width="0.9" />
<text x="0" y="0" font-size="15.5" text-anchor="end" font-weight="bold" fill="#151515" transform="translate(406.2 353.0) scale(1.05 1)">0.8</text>
<line x1="411.2" y1="298.5" x2="415.0" y2="298.5" stroke="#525252" stroke-width="0.9" />
<text x="0" y="0" font-size="15.5" text-anchor="end" font-weight="bold" fill="#151515" transform="translate(406.2 303.6) scale(1.05 1)">0.9</text>
<line x1="411.2" y1="472.5375" x2="413.4" y2="472.5375" stroke="#525252" stroke-width="0.8" />
<line x1="411.2" y1="422.8125" x2="413.4" y2="422.8125" stroke="#525252" stroke-width="0.8" />
<line x1="411.2" y1="373.0875" x2="413.4" y2="373.0875" stroke="#525252" stroke-width="0.8" />
<line x1="411.2" y1="323.3625" x2="413.4" y2="323.3625" stroke="#525252" stroke-width="0.8" />
<line x1="427.20000000000005" y1="511.75" x2="427.20000000000005" y2="507.95" stroke="#525252" stroke-width="0.9" />
<text x="426.40000000000003" y="528.9" font-size="15.5" text-anchor="middle" font-weight="bold" fill="#151515">-1.2</text>
<line x1="489.70000000000005" y1="511.75" x2="489.70000000000005" y2="507.95" stroke="#525252" stroke-width="0.9" />
<text x="488.90000000000003" y="528.9" font-size="15.5" text-anchor="middle" font-weight="bold" fill="#151515">-0.8</text>
<line x1="552.2" y1="511.75" x2="552.2" y2="507.95" stroke="#525252" stroke-width="0.9" />
<text x="551.4000000000001" y="528.9" font-size="15.5" text-anchor="middle" font-weight="bold" fill="#151515">-0.4</text>
<line x1="614.7" y1="511.75" x2="614.7" y2="507.95" stroke="#525252" stroke-width="0.9" />
<text x="613.9000000000001" y="528.9" font-size="15.5" text-anchor="middle" font-weight="bold" fill="#151515">0.0</text>
<line x1="677.2" y1="511.75" x2="677.2" y2="507.95" stroke="#525252" stroke-width="0.9" />
<text x="676.4000000000001" y="528.9" font-size="15.5" text-anchor="middle" font-weight="bold" fill="#151515">0.4</text>
<line x1="458.45000000000005" y1="511.75" x2="458.45000000000005" y2="509.55" stroke="#525252" stroke-width="0.8" />
<line x1="520.95" y1="511.75" x2="520.95" y2="509.55" stroke="#525252" stroke-width="0.8" />
<line x1="583.45" y1="511.75" x2="583.45" y2="509.55" stroke="#525252" stroke-width="0.8" />
<line x1="645.95" y1="511.75" x2="645.95" y2="509.55" stroke="#525252" stroke-width="0.8" />
<text x="552" y="550.5" font-size="17.5" text-anchor="middle" font-weight="bold" fill="#151515">log| <tspan font-style="italic">j</tspan> | (mA cm<tspan dy="-6.65" font-size="10.85">-2</tspan><tspan dy="6.65">)</tspan></text>
<text x="379.3" y="397.7" font-size="17.3" text-anchor="middle" font-weight="bold" fill="#151515" transform="rotate(-90 379.3 397.7)">Potential (V vs RHE)</text>
<text x="424.5" y="313.2" font-size="27" text-anchor="start" font-weight="bold" fill="#000">e</text>
<circle cx="451.3" cy="295.5" r="3.7" fill="url(#eF4)" />
<text x="468" y="299.8" font-size="12.5" text-anchor="start" font-weight="bold" fill="#151515" letter-spacing="0.42">F<tspan dy="3.38" font-size="7.88">4</tspan><tspan dy="-3.38">-CNTs</tspan></text>
<circle cx="536.8" cy="295.5" r="3.7" fill="url(#eF6)" />
<text x="555" y="299.8" font-size="12.5" text-anchor="start" font-weight="bold" fill="#151515" letter-spacing="0.42">F<tspan dy="3.38" font-size="7.88">6</tspan><tspan dy="-3.38">-CNTs</tspan></text>
<circle cx="621.8" cy="295.5" r="3.7" fill="url(#eF8)" />
<text x="640" y="299.8" font-size="12.5" text-anchor="start" font-weight="bold" fill="#151515" letter-spacing="0.42">F<tspan dy="3.38" font-size="7.88">8</tspan><tspan dy="-3.38">-CNTs</tspan></text>
<circle cx="451.3" cy="314.3" r="3.7" fill="url(#eF10)" />
<text x="468" y="318.6" font-size="12.5" text-anchor="start" font-weight="bold" fill="#151515" letter-spacing="0.42">F<tspan dy="3.38" font-size="7.88">10</tspan><tspan dy="-3.38">-CNTs</tspan></text>
<circle cx="536.8" cy="314.3" r="3.7" fill="url(#eF12)" />
<text x="555" y="318.6" font-size="12.5" text-anchor="start" font-weight="bold" fill="#151515" letter-spacing="0.42">F<tspan dy="3.38" font-size="7.88">12</tspan><tspan dy="-3.38">-CNTs</tspan></text>
</g>
<g id="panel-f">
<rect x="822.5" y="345.5" width="22.50" height="166.20" fill="url(#gAqua)" stroke="#4f5f5a" stroke-width="1"/>
<path d="M833.75 331.3V360.7M831.25 331.3H836.25M831.25 360.7H836.25" stroke="#333" stroke-width="1" fill="none"/>
<line x1="833.75" y1="511.7" x2="833.75" y2="507.9" stroke="#525252" stroke-width="0.9" />
<text x="833.75" y="526.5" font-size="12.5" text-anchor="middle" font-weight="bold" fill="#151515" letter-spacing="0.35">F<tspan dy="3.38" font-size="7.88">4</tspan><tspan dy="-3.38">-CNTs</tspan></text>
<rect x="878.8" y="423" width="23.00" height="88.70" fill="url(#gAqua)" stroke="#4f5f5a" stroke-width="1"/>
<path d="M890.3 414.5V431.3M887.8 414.5H892.8M887.8 431.3H892.8" stroke="#333" stroke-width="1" fill="none"/>
<line x1="890.3" y1="511.7" x2="890.3" y2="507.9" stroke="#525252" stroke-width="0.9" />
<text x="890.3" y="526.5" font-size="12.5" text-anchor="middle" font-weight="bold" fill="#151515" letter-spacing="0.35">F<tspan dy="3.38" font-size="7.88">6</tspan><tspan dy="-3.38">-CNTs</tspan></text>
<rect x="935.5" y="416.7" width="23.20" height="95.00" fill="url(#gAqua)" stroke="#4f5f5a" stroke-width="1"/>
<path d="M947.1 408V427M944.6 408H949.6M944.6 427H949.6" stroke="#333" stroke-width="1" fill="none"/>
<line x1="947.1" y1="511.7" x2="947.1" y2="507.9" stroke="#525252" stroke-width="0.9" />
<text x="947.1" y="526.5" font-size="12.5" text-anchor="middle" font-weight="bold" fill="#151515" letter-spacing="0.35">F<tspan dy="3.38" font-size="7.88">8</tspan><tspan dy="-3.38">-CNTs</tspan></text>
<rect x="992.5" y="433.7" width="23.00" height="78.00" fill="url(#gAqua)" stroke="#4f5f5a" stroke-width="1"/>
<path d="M1004.0 424V443.5M1001.5 424H1006.5M1001.5 443.5H1006.5" stroke="#333" stroke-width="1" fill="none"/>
<line x1="1004.0" y1="511.7" x2="1004.0" y2="507.9" stroke="#525252" stroke-width="0.9" />
<text x="1004.0" y="526.5" font-size="12.5" text-anchor="middle" font-weight="bold" fill="#151515" letter-spacing="0.35">F<tspan dy="3.38" font-size="7.88">10</tspan><tspan dy="-3.38">-CNTs</tspan></text>
<rect x="1049.5" y="393" width="23.00" height="118.70" fill="url(#gAqua)" stroke="#4f5f5a" stroke-width="1"/>
<path d="M1061.0 371.7V413M1058.5 371.7H1063.5M1058.5 413H1063.5" stroke="#333" stroke-width="1" fill="none"/>
<line x1="1061.0" y1="511.7" x2="1061.0" y2="507.9" stroke="#525252" stroke-width="0.9" />
<text x="1061.0" y="526.5" font-size="12.5" text-anchor="middle" font-weight="bold" fill="#151515" letter-spacing="0.35">F<tspan dy="3.38" font-size="7.88">12</tspan><tspan dy="-3.38">-CNTs</tspan></text>
<line x1="862" y1="511.7" x2="862" y2="509.5" stroke="#525252" stroke-width="0.8" />
<line x1="918.7" y1="511.7" x2="918.7" y2="509.5" stroke="#525252" stroke-width="0.8" />
<line x1="975.5" y1="511.7" x2="975.5" y2="509.5" stroke="#525252" stroke-width="0.8" />
<line x1="1032.5" y1="511.7" x2="1032.5" y2="509.5" stroke="#525252" stroke-width="0.8" />
<rect x="805.7" y="284.5" width="283.50" height="227.20" fill="none" stroke="#525252" stroke-width="1.5" stroke-linejoin="round"/>
<line x1="805.7" y1="511.7" x2="809.5" y2="511.7" stroke="#525252" stroke-width="0.9" />
<text x="0" y="0" font-size="15.5" text-anchor="end" font-weight="bold" fill="#151515" transform="translate(801 516.9) scale(1.12 1)">0</text>
<line x1="805.7" y1="457.41999999999996" x2="809.5" y2="457.41999999999996" stroke="#525252" stroke-width="0.9" />
<text x="0" y="0" font-size="15.5" text-anchor="end" font-weight="bold" fill="#151515" transform="translate(801 462.61999999999995) scale(1.12 1)">2</text>
<line x1="805.7" y1="403.14" x2="809.5" y2="403.14" stroke="#525252" stroke-width="0.9" />
<text x="0" y="0" font-size="15.5" text-anchor="end" font-weight="bold" fill="#151515" transform="translate(801 408.34) scale(1.12 1)">4</text>
<line x1="805.7" y1="348.86" x2="809.5" y2="348.86" stroke="#525252" stroke-width="0.9" />
<text x="0" y="0" font-size="15.5" text-anchor="end" font-weight="bold" fill="#151515" transform="translate(801 354.06) scale(1.12 1)">6</text>
<line x1="805.7" y1="294.58" x2="809.5" y2="294.58" stroke="#525252" stroke-width="0.9" />
<text x="0" y="0" font-size="15.5" text-anchor="end" font-weight="bold" fill="#151515" transform="translate(801 299.78) scale(1.12 1)">8</text>
<line x1="805.7" y1="484.56" x2="807.9000000000001" y2="484.56" stroke="#525252" stroke-width="0.8" />
<line x1="805.7" y1="430.28" x2="807.9000000000001" y2="430.28" stroke="#525252" stroke-width="0.8" />
<line x1="805.7" y1="376.0" x2="807.9000000000001" y2="376.0" stroke="#525252" stroke-width="0.8" />
<line x1="805.7" y1="321.71999999999997" x2="807.9000000000001" y2="321.71999999999997" stroke="#525252" stroke-width="0.8" />
<text x="947" y="547" font-size="17.5" text-anchor="middle" font-weight="bold" fill="#151515">Catalysts</text>
<text x="785.3" y="396.3" font-size="17.4" text-anchor="middle" font-weight="bold" fill="#151515" transform="rotate(-90 785.3 396.3)">Diffusion layer thickness (μm)</text>
<text x="821" y="313" font-size="27" text-anchor="start" font-weight="bold" fill="#000">f</text>
</g>
</svg>
</body></html>
